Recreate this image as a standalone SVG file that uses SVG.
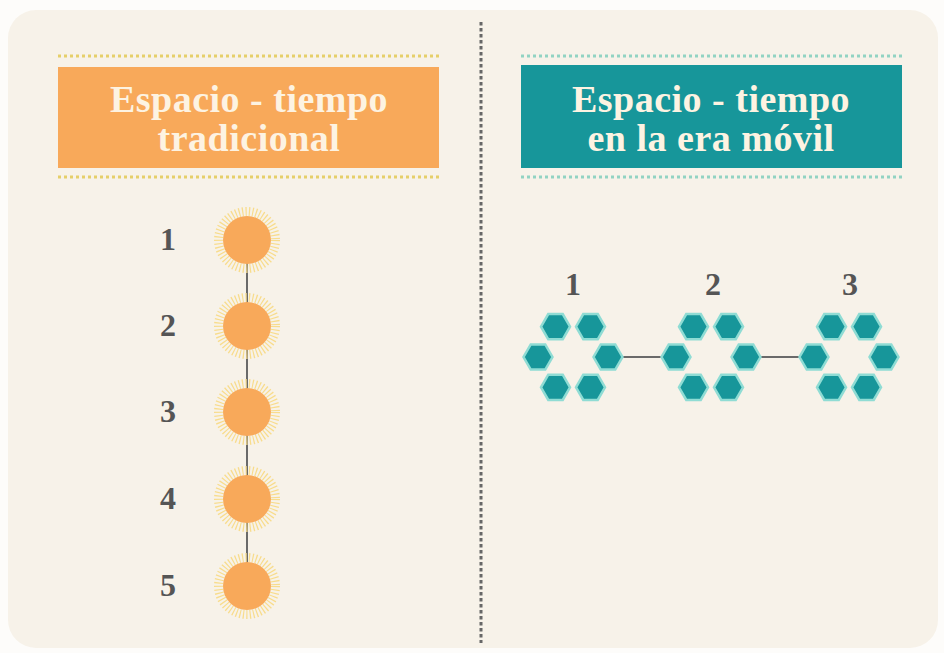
<svg xmlns="http://www.w3.org/2000/svg" width="944" height="653" viewBox="0 0 944 653">
<style>
.title{font-family:"Liberation Serif","Times New Roman",serif;font-weight:bold;font-size:38px;fill:#fdf3e2;text-anchor:middle;letter-spacing:0.5px}
.num{font-family:"Liberation Serif","Times New Roman",serif;font-weight:bold;font-size:32px;fill:#555;text-anchor:middle}
.dotsO{stroke:#e6cf6a;stroke-width:3;stroke-dasharray:3 3;fill:none}
.dotsT{stroke:#92d3c3;stroke-width:3;stroke-dasharray:3 3;fill:none}
.link{stroke:#6a6a6a;stroke-width:2;fill:none}
.hex{fill:#17969a;stroke:#8fdcd4;stroke-width:2.5}
.sunray{fill:none;stroke:#f8dc8c;stroke-width:9;stroke-dasharray:1.2 2.2}
.sun{fill:#f8a95a}
</style>
<defs>
<g id="sunShape">
<circle class="sunray" r="28.5"/>
<circle class="sun" r="24"/>
</g>
<polygon id="hexShape" class="hex" points="14.5,0 7.25,-12.6 -7.25,-12.6 -14.5,0 -7.25,12.6 7.25,12.6"/>
<g id="cluster">
<use href="#hexShape" x="-17.5" y="-30.3"/>
<use href="#hexShape" x="17.5" y="-30.3"/>
<use href="#hexShape" x="-35" y="0"/>
<use href="#hexShape" x="35" y="0"/>
<use href="#hexShape" x="-17.5" y="30.3"/>
<use href="#hexShape" x="17.5" y="30.3"/>
</g>
</defs>
<rect x="0" y="0" width="944" height="653" fill="#fdfcfa"/>
<rect id="background" x="8" y="10" width="930" height="638" rx="28" fill="#f7f2e9"/>
<line id="divider" x1="481" y1="22" x2="481" y2="643" stroke="#676767" stroke-width="3" stroke-dasharray="3.5 2.5"/>

<g id="header-left">
<line class="dotsO" x1="58" y1="56" x2="439" y2="56"/>
<rect x="58" y="67" width="381" height="101" fill="#f8a95a"/>
<line class="dotsO" x1="58" y1="177" x2="439" y2="177"/>
<text class="title" x="249" y="112">Espacio - tiempo</text>
<text class="title" x="249" y="151">tradicional</text>
</g>

<g id="header-right">
<line class="dotsT" x1="521" y1="56" x2="902" y2="56"/>
<rect x="521" y="65" width="381" height="103" fill="#17969a"/>
<line class="dotsT" x1="521" y1="177" x2="902" y2="177"/>
<text class="title" x="711" y="112">Espacio - tiempo</text>
<text class="title" x="711" y="151">en la era móvil</text>
</g>

<g id="connectors">
<line class="link" x1="247" y1="240" x2="247" y2="586"/>
<line class="link" x1="622" y1="357" x2="662" y2="357"/>
<line class="link" x1="760" y1="357" x2="800" y2="357"/>
</g>

<g id="node-t1"><use href="#sunShape" x="247" y="240"/><text class="num" x="168" y="250">1</text></g>
<g id="node-t2"><use href="#sunShape" x="247" y="326"/><text class="num" x="168" y="336">2</text></g>
<g id="node-t3"><use href="#sunShape" x="247" y="412"/><text class="num" x="168" y="422">3</text></g>
<g id="node-t4"><use href="#sunShape" x="247" y="499"/><text class="num" x="168" y="509">4</text></g>
<g id="node-t5"><use href="#sunShape" x="247" y="586"/><text class="num" x="168" y="596">5</text></g>

<g id="node-m1"><use href="#cluster" x="573" y="357"/><text class="num" x="573" y="295">1</text></g>
<g id="node-m2"><use href="#cluster" x="711" y="357"/><text class="num" x="713" y="295">2</text></g>
<g id="node-m3"><use href="#cluster" x="849" y="357"/><text class="num" x="850" y="295">3</text></g>
</svg>
